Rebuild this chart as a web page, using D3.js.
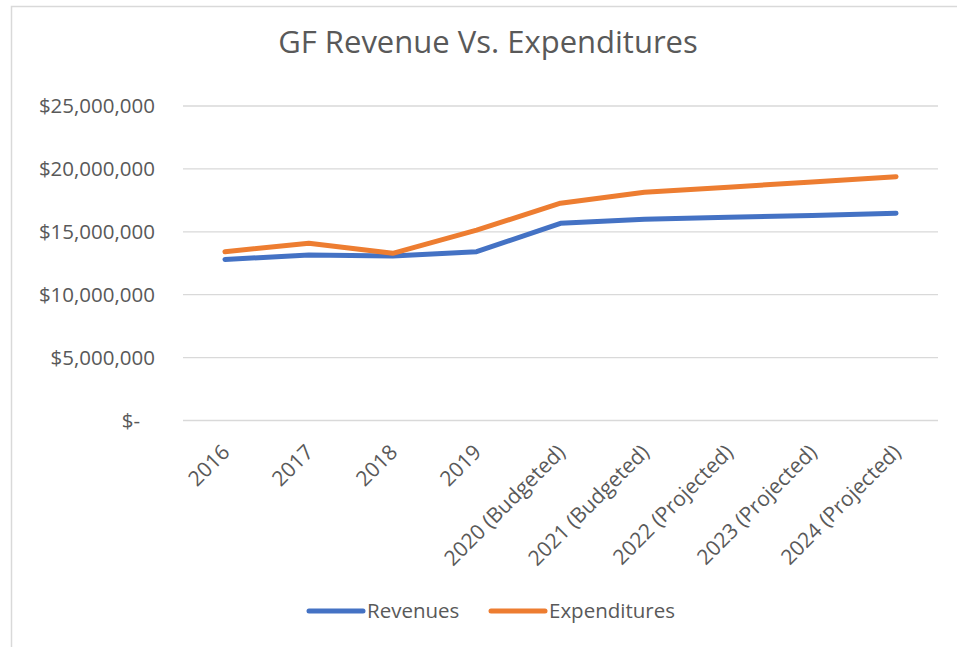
<!DOCTYPE html>
<html>
<head>
<meta charset="utf-8">
<script src="https://cdn.jsdelivr.net/npm/d3@7"></script>
<style>
  body { margin: 0; background: #fff; }
  svg { display: block; font-family: "Open Sans", sans-serif; }
</style>
</head>
<body>
<div id="chart"></div>
<script>
const categories = ["2016", "2017", "2018", "2019", "2020 (Budgeted)", "2021 (Budgeted)",
    "2022 (Projected)", "2023 (Projected)", "2024 (Projected)"];
const revenues = [12800000, 13150000, 13080000, 13420000, 15670000, 15990000, 16150000, 16300000, 16470000];
const expenditures = [13420000, 14090000, 13290000, 15140000, 17270000, 18140000, 18550000, 18950000, 19380000];
const yTicks = [0, 5000000, 10000000, 15000000, 20000000, 25000000];

const W = 957, H = 647;
const margin = { top: 106, right: 19, bottom: 226.5, left: 183 };
const width = W - margin.left - margin.right,
      height = H - margin.top - margin.bottom;

const svg = d3.select("#chart").append("svg")
    .attr("width", W)
    .attr("height", H);

// chart area border
svg.append("rect")
    .attr("x", 11.5).attr("y", 6.5)
    .attr("width", W + 10).attr("height", H + 10)
    .attr("fill", "none")
    .attr("stroke", "#d9d9d9")
    .attr("stroke-width", 1.5);

svg.append("text")
    .attr("x", 488)
    .attr("y", 53)
    .attr("text-anchor", "middle")
    .style("font-size", "31px")
    .style("fill", "#595959")
    .text("GF Revenue Vs. Expenditures");

const g = svg.append("g")
    .attr("transform", `translate(${margin.left},${margin.top})`);

const x = d3.scalePoint()
    .domain(categories)
    .range([0, width])
    .padding(0.5);

const y = d3.scaleLinear()
    .domain([0, 25000000])
    .range([height, 0]);

const fmt = d => d === 0 ? "$-" : "$" + d3.format(",")(d);

// gridlines
g.append("g")
    .selectAll("line")
    .data(yTicks)
    .join("line")
    .attr("x1", 0).attr("x2", width)
    .attr("y1", d => y(d)).attr("y2", d => y(d))
    .attr("stroke", "#d9d9d9")
    .attr("stroke-width", 1.3);

const yAxis = g.append("g")
    .call(d3.axisLeft(y).tickValues(yTicks).tickFormat(fmt).tickSize(0).tickPadding(28));
yAxis.select(".domain").remove();
yAxis.selectAll("text")
    .style("font-family", "Open Sans")
    .style("font-size", "20.5px")
    .style("fill", "#595959")
    .attr("dx", d => d === 0 ? "-15px" : 0);

// category labels
g.append("g")
    .selectAll("text")
    .data(categories)
    .join("text")
    .attr("transform", d => `translate(${x(d) + 6},${height + 33}) rotate(-45)`)
    .attr("text-anchor", "end")
    .style("font-size", "21px")
    .style("fill", "#595959")
    .text(d => d);

const line = d3.line()
    .x((d, i) => x(categories[i]))
    .y(d => y(d));

const series = [
    { name: "Revenues", values: revenues, color: "#4472C4" },
    { name: "Expenditures", values: expenditures, color: "#ED7D31" }
];

g.append("g")
    .selectAll("path")
    .data(series)
    .join("path")
    .attr("d", d => line(d.values))
    .attr("fill", "none")
    .attr("stroke", d => d.color)
    .attr("stroke-width", 5)
    .attr("stroke-linecap", "round")
    .attr("stroke-linejoin", "round");

// legend
const legendX = [309, 491];
const legend = svg.append("g")
    .selectAll("g")
    .data(series)
    .join("g")
    .attr("transform", (d, i) => `translate(${legendX[i]},611)`);

legend.append("line")
    .attr("x1", 0).attr("x2", 54)
    .attr("stroke", d => d.color)
    .attr("stroke-width", 5)
    .attr("stroke-linecap", "round");

legend.append("text")
    .attr("x", 58)
    .attr("dy", "0.35em")
    .style("font-size", "20.5px")
    .style("fill", "#595959")
    .text(d => d.name);
</script>
</body>
</html>
